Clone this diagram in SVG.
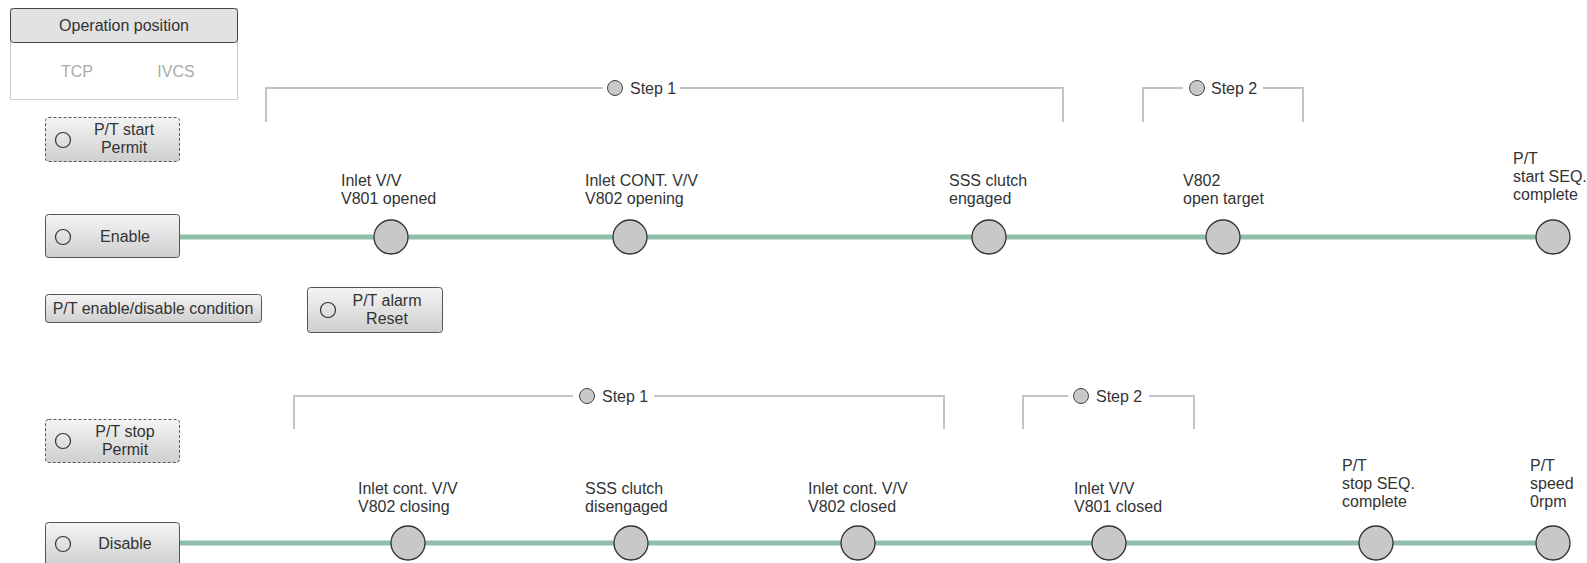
<svg xmlns="http://www.w3.org/2000/svg" width="1587" height="563" viewBox="0 0 1587 563">
<defs>
<linearGradient id="btn" x1="0" y1="0" x2="0" y2="1">
<stop offset="0" stop-color="#f4f4f4"/>
<stop offset="1" stop-color="#cfcfcf"/>
</linearGradient>
</defs>
<style>
text{font-family:"Liberation Sans",Arial,sans-serif;font-size:16px;fill:#333}
.c{text-anchor:middle}
.btn{fill:url(#btn);stroke:#555;stroke-width:1}
.dash{stroke-dasharray:3 2}
.led{fill:none;stroke:#333;stroke-width:1.2}
.node{fill:#c8c8c8;stroke:#333;stroke-width:1.3}
.flow{stroke:#8fbfa9;stroke-width:5;fill:none}
.br{stroke:#c3c3c3;stroke-width:2;fill:none}
.sled{fill:#c8c8c8;stroke:#444;stroke-width:1}
.dim{fill:#aaa}
</style>

<g id="connectors">
<line class="flow" x1="180" y1="237" x2="1553" y2="237"/>
<line class="flow" x1="180" y1="543" x2="1553" y2="543"/>
</g>

<g id="operation-position">
<rect x="10.5" y="8.5" width="227" height="91" fill="#fff" stroke="#ccc"/>
<rect x="10.5" y="8.5" width="227" height="34" rx="3" fill="#e2e2e2" stroke="#444"/>
<text class="c" x="124" y="31">Operation position</text>
<text class="c dim" x="77" y="77">TCP</text>
<text class="c dim" x="176" y="77">IVCS</text>
</g>

<g id="pt-start-permit">
<rect class="btn dash" x="45.5" y="117.5" width="134" height="44" rx="3"/>
<circle class="led" cx="63" cy="140" r="7.5"/>
<text class="c" x="124" y="135">P/T start</text>
<text class="c" x="124" y="153">Permit</text>
</g>

<g id="enable">
<rect class="btn" x="45.5" y="214.5" width="134" height="43" rx="3"/>
<circle class="led" cx="63" cy="237" r="7.5"/>
<text class="c" x="125" y="242">Enable</text>
</g>

<g id="pt-condition">
<rect class="btn" x="45.5" y="294.5" width="216" height="28" rx="3"/>
<text class="c" x="153" y="314">P/T enable/disable condition</text>
</g>

<g id="pt-alarm-reset">
<rect class="btn" x="307.5" y="287.5" width="135" height="45" rx="3"/>
<circle class="led" cx="328" cy="310" r="7.5"/>
<text class="c" x="387" y="306">P/T alarm</text>
<text class="c" x="387" y="324">Reset</text>
</g>

<g id="pt-stop-permit">
<rect class="btn dash" x="45.5" y="419.5" width="134" height="43" rx="3"/>
<circle class="led" cx="63" cy="441" r="7.5"/>
<text class="c" x="125" y="437">P/T stop</text>
<text class="c" x="125" y="455">Permit</text>
</g>

<g id="disable">
<rect class="btn" x="45.5" y="522.5" width="134" height="44" rx="3"/>
<circle class="led" cx="63" cy="544" r="7.5"/>
<text class="c" x="125" y="549">Disable</text>
</g>

<g id="start-step1">
<polyline class="br" points="266,122 266,88 603,88"/>
<polyline class="br" points="680,88 1063,88 1063,122"/>
<circle class="sled" cx="615" cy="88" r="7.5"/>
<text x="630" y="94">Step 1</text>
</g>

<g id="start-step2">
<polyline class="br" points="1143,122 1143,88 1183,88"/>
<polyline class="br" points="1263,88 1303,88 1303,122"/>
<circle class="sled" cx="1197" cy="88" r="7.5"/>
<text x="1211" y="94">Step 2</text>
</g>

<g id="stop-step1">
<polyline class="br" points="294,429 294,396 573,396"/>
<polyline class="br" points="654,396 944,396 944,429"/>
<circle class="sled" cx="587" cy="396" r="7.5"/>
<text x="602" y="402">Step 1</text>
</g>

<g id="stop-step2">
<polyline class="br" points="1023,429 1023,396 1068,396"/>
<polyline class="br" points="1149,396 1194,396 1194,429"/>
<circle class="sled" cx="1081" cy="396" r="7.5"/>
<text x="1096" y="402">Step 2</text>
</g>

<g id="n-v801-opened">
<circle class="node" cx="391" cy="237" r="17"/>
<text x="341" y="186">Inlet V/V</text>
<text x="341" y="204">V801 opened</text>
</g>
<g id="n-v802-opening">
<circle class="node" cx="630" cy="237" r="17"/>
<text x="585" y="186">Inlet CONT. V/V</text>
<text x="585" y="204">V802 opening</text>
</g>
<g id="n-sss-engaged">
<circle class="node" cx="989" cy="237" r="17"/>
<text x="949" y="186">SSS clutch</text>
<text x="949" y="204">engaged</text>
</g>
<g id="n-v802-target">
<circle class="node" cx="1223" cy="237" r="17"/>
<text x="1183" y="186">V802</text>
<text x="1183" y="204">open target</text>
</g>
<g id="n-start-complete">
<circle class="node" cx="1553" cy="237" r="17"/>
<text x="1513" y="164">P/T</text>
<text x="1513" y="182">start SEQ.</text>
<text x="1513" y="200">complete</text>
</g>

<g id="n-v802-closing">
<circle class="node" cx="408" cy="543" r="17"/>
<text x="358" y="494">Inlet cont. V/V</text>
<text x="358" y="512">V802 closing</text>
</g>
<g id="n-sss-disengaged">
<circle class="node" cx="631" cy="543" r="17"/>
<text x="585" y="494">SSS clutch</text>
<text x="585" y="512">disengaged</text>
</g>
<g id="n-v802-closed">
<circle class="node" cx="858" cy="543" r="17"/>
<text x="808" y="494">Inlet cont. V/V</text>
<text x="808" y="512">V802 closed</text>
</g>
<g id="n-v801-closed">
<circle class="node" cx="1109" cy="543" r="17"/>
<text x="1074" y="494">Inlet V/V</text>
<text x="1074" y="512">V801 closed</text>
</g>
<g id="n-stop-complete">
<circle class="node" cx="1376" cy="543" r="17"/>
<text x="1342" y="471">P/T</text>
<text x="1342" y="489">stop SEQ.</text>
<text x="1342" y="507">complete</text>
</g>
<g id="n-speed-0">
<circle class="node" cx="1553" cy="543" r="17"/>
<text x="1530" y="471">P/T</text>
<text x="1530" y="489">speed</text>
<text x="1530" y="507">0rpm</text>
</g>
</svg>
